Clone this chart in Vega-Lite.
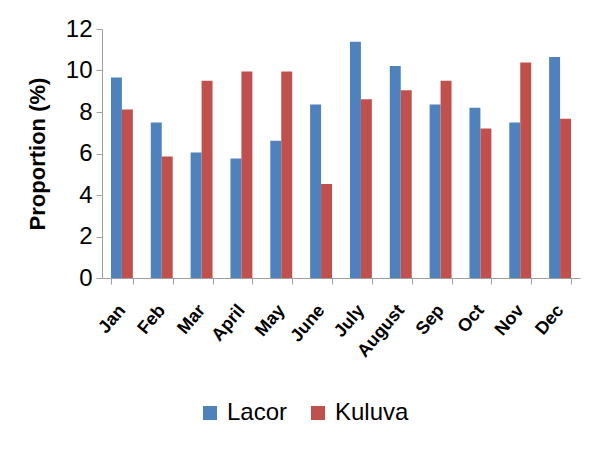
{
  "$schema": "https://vega.github.io/schema/vega-lite/v6.json",
  "autosize": {"type": "none"},
  "width": 478,
  "height": 249,
  "padding": {"left": 102, "top": 29, "right": 20, "bottom": 172},
  "background": "white",
  "data": {
    "values": [
      {"month": "Jan", "site": "Lacor", "value": 9.66},
      {"month": "Jan", "site": "Kuluva", "value": 8.12},
      {"month": "Feb", "site": "Lacor", "value": 7.49},
      {"month": "Feb", "site": "Kuluva", "value": 5.86},
      {"month": "Mar", "site": "Lacor", "value": 6.05},
      {"month": "Mar", "site": "Kuluva", "value": 9.51},
      {"month": "April", "site": "Lacor", "value": 5.76},
      {"month": "April", "site": "Kuluva", "value": 9.95},
      {"month": "May", "site": "Lacor", "value": 6.61},
      {"month": "May", "site": "Kuluva", "value": 9.95},
      {"month": "June", "site": "Lacor", "value": 8.36},
      {"month": "June", "site": "Kuluva", "value": 4.53},
      {"month": "July", "site": "Lacor", "value": 11.38},
      {"month": "July", "site": "Kuluva", "value": 8.62},
      {"month": "August", "site": "Lacor", "value": 10.22},
      {"month": "August", "site": "Kuluva", "value": 9.05},
      {"month": "Sep", "site": "Lacor", "value": 8.36},
      {"month": "Sep", "site": "Kuluva", "value": 9.51},
      {"month": "Oct", "site": "Lacor", "value": 8.21},
      {"month": "Oct", "site": "Kuluva", "value": 7.2},
      {"month": "Nov", "site": "Lacor", "value": 7.49},
      {"month": "Nov", "site": "Kuluva", "value": 10.38},
      {"month": "Dec", "site": "Lacor", "value": 10.65},
      {"month": "Dec", "site": "Kuluva", "value": 7.68}
    ]
  },
  "mark": {"type": "bar"},
  "encoding": {
    "x": {
      "field": "month",
      "type": "nominal",
      "sort": ["Jan","Feb","Mar","April","May","June","July","August","Sep","Oct","Nov","Dec"],
      "scale": {"paddingInner": 0.45, "paddingOuter": 0.225},
      "axis": {
        "title": null,
        "labelAngle": -50,
        "labelFont": "Liberation Sans",
        "labelFontSize": 18,
        "labelFontWeight": "bold",
        "labelColor": "black",
        "labelPadding": 23,
        "tickBand": "extent",
        "tickSize": 6,
        "tickColor": "#a0a0a0",
        "domainColor": "#a0a0a0"
      }
    },
    "xOffset": {
      "field": "site",
      "type": "nominal",
      "sort": ["Lacor", "Kuluva"]
    },
    "y": {
      "field": "value",
      "type": "quantitative",
      "scale": {"domain": [0, 12], "nice": false},
      "axis": {
        "title": "Proportion (%)",
        "titleFont": "Liberation Sans",
        "titleFontSize": 22,
        "titleFontWeight": "bold",
        "titleColor": "black",
        "titlePadding": 16,
        "values": [0, 2, 4, 6, 8, 10, 12],
        "grid": false,
        "labelFont": "Liberation Sans",
        "labelFontSize": 24,
        "labelColor": "black",
        "labelPadding": 4,
        "tickSize": 6,
        "tickColor": "#a0a0a0",
        "domainColor": "#a0a0a0"
      }
    },
    "color": {
      "field": "site",
      "type": "nominal",
      "sort": ["Lacor", "Kuluva"],
      "scale": {"domain": ["Lacor", "Kuluva"], "range": ["#4F81BD", "#C0504D"]},
      "legend": {
        "title": null,
        "orient": "none",
        "direction": "horizontal",
        "legendX": 96,
        "legendY": 372,
        "symbolType": "square",
        "symbolSize": 196,
        "symbolStrokeWidth": 0,
        "labelFont": "Liberation Sans",
        "labelFontSize": 24,
        "labelColor": "black",
        "labelOffset": 5,
        "columnPadding": 18
      }
    }
  },
  "config": {
    "view": {"stroke": null}
  }
}
